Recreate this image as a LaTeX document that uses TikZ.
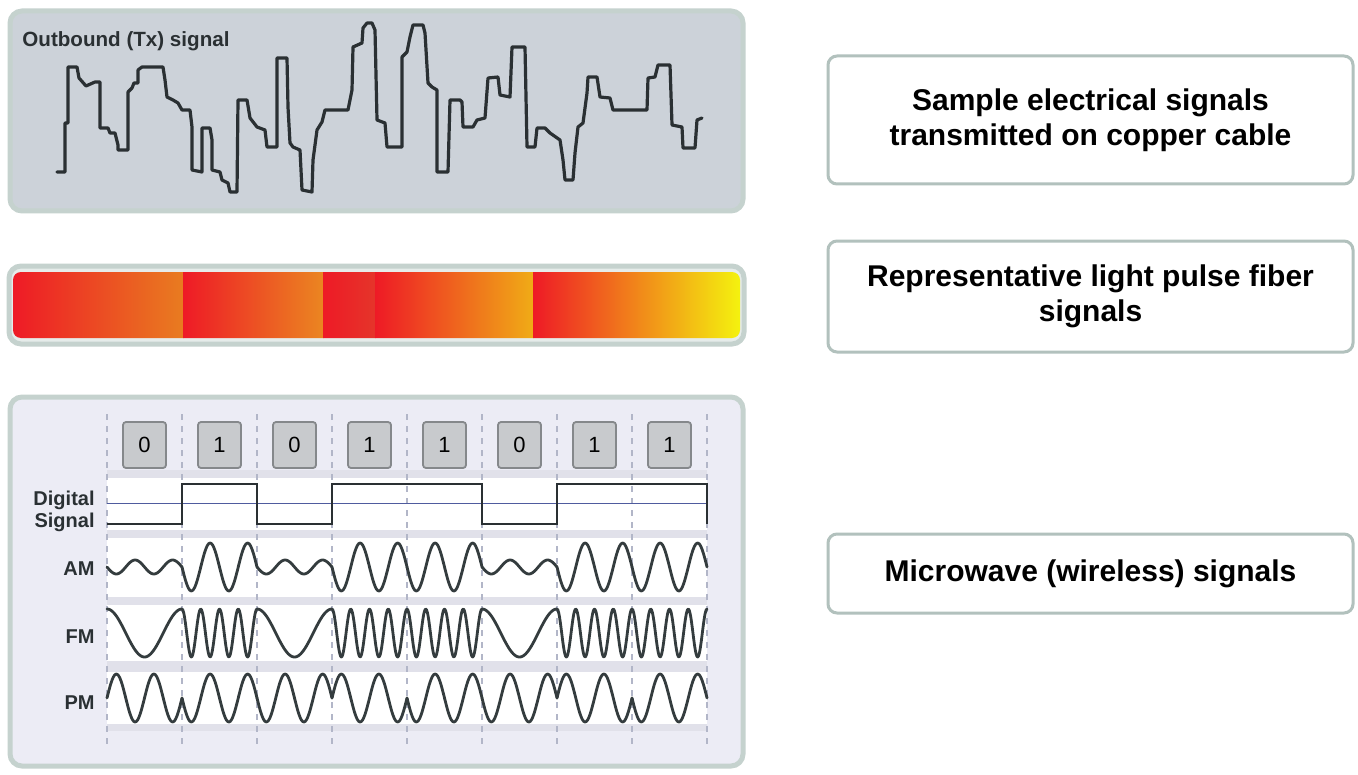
\documentclass[tikz,border=0pt]{standalone}
\usepackage{fontspec}
\setmainfont{Liberation Sans}
\definecolor{panelrim}{HTML}{C5D2CE}
\definecolor{topfill}{HTML}{CCD2D9}
\definecolor{sigcol}{HTML}{2A3033}
\definecolor{wavecol}{HTML}{343C3E}
\definecolor{botfill}{HTML}{ECECF5}
\definecolor{gapfill}{HTML}{E1E1EA}
\definecolor{gridcol}{HTML}{B2B6C8}
\definecolor{bitfill}{HTML}{C8CACD}
\definecolor{bitdraw}{HTML}{85888B}
\definecolor{midline}{HTML}{4F5B9E}
\definecolor{boxrim}{HTML}{B2C1BD}
\definecolor{fibframe}{HTML}{E6ECEA}
\definecolor{fred}{HTML}{EE1A26}
\definecolor{forange}{HTML}{E97C20}
\definecolor{forange2}{HTML}{EB8621}
\definecolor{fred3}{HTML}{E5352A}
\definecolor{fyorange}{HTML}{F0AC16}
\definecolor{fyellow}{HTML}{F4F40E}
\begin{document}
\begin{tikzpicture}[x=0.5pt,y=-0.5pt,
  panel/.style={rounded corners=6pt, draw=panelrim, line width=2.5pt},
  sig/.style={draw=sigcol, line width=1.6pt, line join=round, line cap=round},
  wave/.style={draw=wavecol, line width=1.4pt, line join=round, line cap=round},
  gridline/.style={draw=gridcol, line width=1.1pt, dash pattern=on 3pt off 3pt},
  bitbox/.style={draw=bitdraw, fill=bitfill, line width=0.9pt, rounded corners=1.5pt,
    minimum width=21.5pt, minimum height=23pt, inner sep=0pt, font=\fontsize{11}{13}\selectfont},
  lbl/.style={font=\bfseries\fontsize{10}{11}\selectfont, text=sigcol, inner sep=0pt, align=right},
  infobox/.style={draw=boxrim, fill=white, line width=1.5pt, rounded corners=4.5pt,
    minimum width=262.5pt, align=center, font=\bfseries\fontsize{15}{17.5}\selectfont, text=black}
]
\useasboundingbox (0,0) rectangle (1358,775);
\fill[white] (0,0) rectangle (1358,775);

% ---------- top panel: copper signal ----------
\path[panel, fill=topfill] (10,11) rectangle (743,211);
\node[anchor=west, font=\bfseries\fontsize{10.3}{12}\selectfont, text=sigcol, inner sep=0pt] (otx) at (22,41) {Outbound (Tx) signal};
\draw[sig] (57,172) -- (65,172) -- (65,123) -- (68,123) -- (68,67) -- (77,67) -- (79,78) -- (86,86) -- (95,82) -- (100,82)
 -- (100,128) -- (108,128) -- (110,133) -- (115,133) -- (118,145) -- (118,150) -- (128,150) -- (128,92) -- (132,88) -- (134,83)
 -- (138,83) -- (138,70) -- (142,67) -- (163,67) -- (165,80) -- (167,97) -- (173,100) -- (178,103) -- (182,110) -- (190,110)
 -- (192,127) -- (192,170) -- (202,172) -- (202,128) -- (210,128) -- (212,140) -- (212,170) -- (220,172) -- (222,180)
 -- (228,183) -- (230,192) -- (237,192) -- (238,100) -- (247,100) -- (250,118) -- (257,127) -- (265,130) -- (267,147)
 -- (277,147) -- (277,58) -- (287,58) -- (288,107) -- (290,143) -- (293,147) -- (300,150) -- (302,190) -- (312,192)
 -- (313,160) -- (317,130) -- (322,122) -- (325,110) -- (348,110) -- (352,90) -- (353,47) -- (362,43) -- (363,28)
 -- (367,23) -- (372,23) -- (375,30) -- (377,120) -- (385,123) -- (387,147) -- (402,147) -- (402,57) -- (407,52)
 -- (410,37) -- (413,25) -- (423,25) -- (425,33) -- (428,83) -- (432,87) -- (437,90) -- (437,172) -- (448,172)
 -- (450,100) -- (460,100) -- (462,102) -- (463,127) -- (473,127) -- (477,120) -- (485,118) -- (488,78) -- (498,77)
 -- (500,95) -- (510,97) -- (512,47) -- (525,47) -- (527,147) -- (535,147) -- (537,128) -- (545,128) -- (550,133)
 -- (560,140) -- (563,160) -- (565,180) -- (573,180) -- (575,153) -- (578,127) -- (583,123) -- (587,93) -- (588,77)
 -- (597,77) -- (600,97) -- (610,98) -- (613,110) -- (647,110) -- (648,78) -- (655,77) -- (658,65) -- (670,65)
 -- (672,125) -- (682,127) -- (683,148) -- (695,148) -- (697,120) -- (702,118);

% ---------- fiber bar ----------
\path[panel, fill=fibframe] (9,266) rectangle (744,344);
\begin{scope}
\clip[rounded corners=4pt] (13,272) rectangle (740,338);
\shade[left color=fred, right color=forange] (12,270) rectangle (183.5,340);
\shade[left color=fred, right color=forange2] (183,270) rectangle (323.5,340);
\shade[left color=fred, right color=fred3] (323,270) rectangle (375.5,340);
\shade[left color=fred, right color=fyorange] (375,270) rectangle (533.5,340);
\shade[left color=fred, right color=fyellow] (533,270) rectangle (742,340);
\end{scope}

% ---------- bottom panel: wireless ----------
\path[panel, fill=botfill] (10,397) rectangle (743,766);
\fill[gapfill] (107,470) rectangle (707,731);
\fill[white] (107,478) rectangle (707,530);
\fill[white] (107,538) rectangle (707,597);
\fill[white] (107,605) rectangle (707,661);
\fill[white] (107,672) rectangle (707,724);
\foreach \i in {0,...,8} {
  \draw[gridline] ({107+75*\i},414) -- ({107+75*\i},748);
}
\foreach \b [count=\i from 0] in {0,1,0,1,1,0,1,1} {
  \node[bitbox] (bit\i) at ({144.5+75*\i},445) {\b};
}
\draw[draw=midline, line width=0.5pt] (107,503) -- (707,503);
\draw[draw=sigcol, line width=1.2pt] (107,524) -- (182,524) -- (182,484) -- (257,484) -- (257,524) -- (332,524) -- (332,484)
  -- (482,484) -- (482,524) -- (557,524) -- (557,484) -- (707,484) -- (707,524);

\node[lbl, anchor=east] (ldig) at (95,511) {Digital\\Signal};
\node[lbl, anchor=east] (lam) at (95,569) {AM};
\node[lbl, anchor=east] (lfm) at (95,637) {FM};
\node[lbl, anchor=east] (lpm) at (95,703) {PM};

% AM
\foreach \b [count=\i from 0] in {0,1,0,1,1,0,1,1} {
  \pgfmathsetmacro\xa{107+75*\i}
  \pgfmathsetmacro\xb{182+75*\i}
  \pgfmathsetmacro\amp{\b==1 ? 24 : 7}
  \draw[wave] plot[domain=\xa:\xb, samples=60, smooth] (\x,{567+\amp*sin(9.6*(\x-107))});
}
% FM
\foreach \b [count=\i from 0] in {0,1,0,1,1,0,1,1} {
  \pgfmathsetmacro\xa{107+75*\i}
  \pgfmathsetmacro\xb{182+75*\i}
  \pgfmathsetmacro\fr{\b==1 ? 4.8*4 : 4.8}
  \draw[wave] plot[domain=\xa:\xb, samples=90, smooth] (\x,{633-24*cos(\fr*(\x-\xa))});
}
% PM
\foreach \b/\s [count=\i from 0] in {0/1,1/-1,0/-1,1/1,1/-1,0/-1,1/1,1/-1} {
  \pgfmathsetmacro\xa{107+75*\i}
  \pgfmathsetmacro\xb{182+75*\i}
  \draw[wave] plot[domain=\xa:\xb, samples=60, smooth] (\x,{698-\s*24*sin(9.6*(\x-107))});
}

% ---------- right-hand captions ----------
\node[infobox, minimum height=64pt] (cap1) at (1090.5,120) {Sample electrical signals\\transmitted on copper cable};
\node[infobox, minimum height=55.5pt] (cap2) at (1090.5,296.5) {Representative light pulse fiber\\signals};
\node[infobox, minimum height=39.5pt] (cap3) at (1090.5,573.5) {Microwave (wireless) signals};
\end{tikzpicture}
\end{document}
